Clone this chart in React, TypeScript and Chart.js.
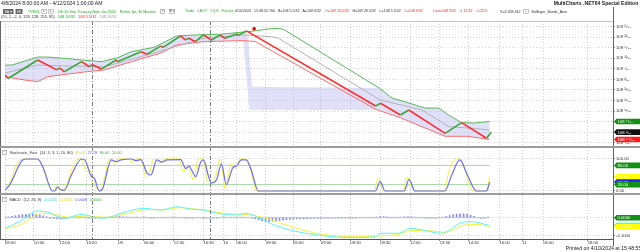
import React, { useEffect, useRef } from 'react';
import { Chart, registerables } from 'chart.js';

Chart.register(...registerables);

const FONT = "'Liberation Sans', Arial, Helvetica, sans-serif";

// ---------- time axis (x = bar index) ----------
const timeTickBars = [0, 8.3, 15.7, 23.4, 32.6, 40, 48.6, 57.1, 62.9, 66.6, 75.1, 82.9, 90.9, 99.4, 108, 116.6, 125.1, 133.4, 142.3, 148.9, 154.9, 167.7];
const timeTickLabels = ['09:00', '10:00', '12:00', '15:00', '09', '06:00', '12:30', '16:30', '10', '06:00', '09:00', '09:00', '09:00', '09:30', '09:30', '12:00', '13:30', '14:30', '16:00', '11', '06:00', '18:00'];
const sessionBreakBars = [24.9, 59.1];
const xMaxBar = 175;
const indicatorStartBar = 0;
const indicatorEndBar = 139.5;

// ---------- price panel (values in 32nds above 108) ----------
const priceTicks = [4, 9, 14, 19, 24, 29, 34, 39, 44, 49, 54, 59];
const priceBars = [0, 0.9, 9.4, 14.9, 15.7, 17.1, 22, 24.3, 25.1, 27.7, 32, 32.4, 39.1, 40.9, 44.8, 45.5, 50.5, 51.9, 52.9, 54.8, 57.1, 59.5, 61.9, 63.3, 66.7, 67.1, 69.5, 106.7, 108.1, 113.8, 116.2, 126.7, 131.4, 138.6, 140];
const priceVals = [36.1, 34.4, 43.2, 38.5, 39.5, 37.6, 42.4, 40.0, 41.1, 38.9, 43.2, 42.4, 47.1, 45.9, 49.8, 49.2, 54.6, 52.7, 53.5, 51.9, 55.1, 52.7, 55.1, 53.5, 55.5, 54.9, 57.0, 21.4, 22.7, 17.1, 19.5, 8.4, 13.5, 6.1, 9];
const markerBars = [71.7];
const markerVals = [58];
const upperBars = [0, 2, 9.4, 12.3, 19.1, 22, 27.7, 32.3, 36.3, 42.9, 49.4, 55.1, 62, 69.4, 72.3, 75.1, 78, 80, 107.7, 111.4, 116.3, 120.9, 124.9, 127.7, 131.4, 135.1, 139.5];
const upperVals = [40.8, 40.8, 44.6, 44.6, 43.7, 43.2, 42.4, 44.2, 47.1, 49.2, 54.6, 55.1, 55.4, 56.6, 57.1, 57.8, 58.2, 57.9, 29.9, 25.2, 22.8, 20.4, 20.4, 17.1, 13.5, 13.3, 14];
const midBars = [0, 9.4, 17.1, 28.6, 42.9, 57.1, 68.6, 76.3, 78.6, 108, 120, 127.7, 134.3, 139.5];
const midVals = [37, 40.8, 40.4, 40.0, 46.5, 53.5, 55.1, 54.3, 53.6, 24.2, 19.5, 11.6, 10.8, 10];
const lowerBars = [0, 5.7, 9.4, 12.3, 23.7, 28.6, 38, 44.9, 49.4, 57.1, 68.6, 72, 106.7, 113.8, 126.7, 133, 139.5];
const lowerVals = [35.3, 33.7, 32.9, 35.3, 37.7, 38.5, 43.2, 46.5, 50.3, 51.9, 52.4, 52.0, 19.8, 15.8, 7.0, 7.0, 5.5];
const areaTopBars = [0, 2, 9.4, 12.3, 19.1, 22, 27.7, 32.3, 36.3, 42.9, 49.4, 55.1, 62, 69.4, 70, 71.1, 107.7, 111.4, 116.3, 120.9, 124.9, 127.7, 131.4, 135.1, 139.5];
const areaTopVals = [40.8, 40.8, 44.6, 44.6, 43.7, 43.2, 42.4, 44.2, 47.1, 49.2, 54.6, 55.1, 55.4, 56.6, 52.4, 30.5, 29.9, 25.2, 22.8, 20.4, 20.4, 17.1, 13.5, 13.3, 14];
const areaBottomBars = [0, 5.7, 9.4, 12.3, 23.7, 28.6, 38, 44.9, 49.4, 57.1, 68.6, 70.3, 108, 113.8, 126.7, 133, 139.5];
const areaBottomVals = [35.3, 33.7, 32.9, 35.3, 37.7, 38.5, 43.2, 46.5, 50.3, 51.9, 52.4, 19.5, 19.5, 15.8, 7.0, 7.0, 5.5];

// ---------- stochastic ----------
const stochTicks = [0, 100];
const stochLevels = [80, 20];
const stochKBars = [0, 1.1, 4.3, 5.7, 9.4, 10.6, 12.9, 13.7, 14.9, 15.7, 16.6, 17.7, 20, 21.4, 22.3, 23.4, 24.6, 25.1, 26.3, 27.1, 28.6, 30, 31.4, 32.3, 35.7, 36.6, 37.7, 39.1, 40.6, 41.4, 42.9, 44.3, 45.7, 50, 51.4, 52.3, 54.3, 55.7, 57.1, 58, 59.1, 60.6, 62, 63.4, 65.1, 66.3, 67.7, 69.4, 71.1, 72.3, 106.3, 107.4, 108.9, 114.6, 115.7, 117.7, 126.3, 128, 130, 131.4, 133.7, 134.9, 138.6, 139.5];
const stochKVals = [0, 20, 97, 100, 100, 80, 10, 0, 18, 5, 0, 20, 90, 100, 95, 60, 65, 30, 10, 0, 40, 100, 88, 100, 100, 88, 100, 100, 42, 50, 100, 85, 100, 100, 60, 80, 35, 100, 100, 40, 20, 45, 100, 8, 85, 70, 100, 100, 50, 0, 0, 40, 0, 0, 45, 0, 0, 70, 100, 95, 20, 0, 0, 45.45];
const stochDBars = [0, 1.4, 5.1, 6.3, 9.4, 10.9, 13.7, 14.3, 15.1, 16.3, 17.1, 19.1, 22, 22.9, 24.9, 25.7, 27.1, 28, 30.6, 32, 33.4, 36.3, 37.7, 39.1, 40.9, 42, 43.7, 45.1, 46.6, 50.6, 52, 52.9, 54.9, 56.3, 57.1, 58.6, 59.4, 60.9, 62.3, 63.7, 65.7, 66.6, 68, 69.4, 70.9, 72.9, 106.6, 108, 109.4, 114.9, 116.3, 118, 126.6, 128.6, 130.9, 133.1, 135.7, 138.6, 139.5];
const stochDVals = [3, 20, 97, 100, 100, 75, 0, 0, 12, 3, 3, 50, 100, 98, 45, 40, 0, 5, 97, 92, 97, 100, 95, 98, 55, 50, 97, 90, 97, 98, 70, 78, 45, 90, 97, 45, 25, 35, 85, 20, 75, 78, 97, 97, 65, 0, 0, 29, 0, 0, 36, 0, 0, 50, 97, 50, 0, 0, 27.78];

// ---------- MACD ----------
const macdTicks = [-0.1, 0];
const macdZero = [0];
const macdBars = [0, 4.3, 9.4, 12.3, 17.1, 22, 26.6, 28.6, 33.4, 40, 44.9, 49.4, 53.4, 57.1, 60.9, 66.6, 69.4, 73.4, 76.3, 82, 91.4, 100, 106.6, 108, 113.4, 116.6, 120, 125.7, 131.4, 134.3, 139.5];
const macdVals = [-0.058, -0.02, 0.037, 0.03, -0.003, 0.018, 0, -0.002, 0.024, 0.051, 0.042, 0.06, 0.047, 0.042, 0.024, 0.015, 0.024, -0.003, -0.031, -0.067, -0.098, -0.109, -0.104, -0.085, -0.085, -0.058, -0.067, -0.085, -0.027, -0.022, -0.0425];
const signalBars = [0, 4.3, 10.6, 14.3, 18.6, 23.4, 28.6, 34.3, 40.9, 45.7, 50, 54.3, 58.6, 62.9, 68.6, 74.3, 78.6, 84.3, 91.4, 100, 107.7, 113.4, 117.1, 121.4, 126.6, 132.3, 135.7, 139.5];
const signalVals = [-0.06, -0.04, 0.025, 0.018, 0.002, 0.01, 0.002, 0.018, 0.045, 0.042, 0.055, 0.048, 0.04, 0.024, 0.018, 0.002, -0.025, -0.06, -0.091, -0.104, -0.1, -0.09, -0.07, -0.07, -0.08, -0.04, -0.037, -0.0474];
// one histogram value per bar, bar index = position in list
const histVals = [
  0.002, 0.005, 0.008, 0.011, 0.014, 0.017, 0.019, 0.02, 0.02, 0.018, 0.015, 0.01, 0.005,
  -0.002, -0.005, -0.007, -0.007, -0.005, -0.001,
  0.003, 0.005, 0.005, 0.004, 0.001,
  -0.003, -0.004, -0.003, -0.002,
  0.001, 0.003, 0.005, 0.006, 0.006, 0.006, 0.005, 0.004, 0.003, 0.002, 0.001,
  0.001, 0.001, 0, -0.001, -0.001, 0, 0.001, 0.001, 0.002, 0.002, 0.002, 0.001, 0, -0.001, -0.001, -0.001, 0, 0, -0.001, -0.002, -0.002, -0.002, -0.001, 0, 0.001, 0.002, 0.002, 0.002, 0.003, 0.003, 0.002,
  0, -0.003, -0.006, -0.012, -0.016, -0.019, -0.02, -0.02, -0.018, -0.015, -0.013, -0.011, -0.009, -0.008, -0.007, -0.007, -0.006, -0.006, -0.005, -0.005, -0.004, -0.004,
  -0.003, -0.003, -0.002, -0.002, -0.002, -0.002, -0.001, -0.001, -0.001, -0.001, 0, 0, 0.001, 0.001,
  0.002, 0.004, 0.006, 0.006, 0.005, 0.003, 0.002, 0.002, 0.003, 0.005, 0.006, 0.005, 0.003, 0.001, 0, -0.001, -0.001, -0.001, -0.001, 0,
  0.003, 0.007, 0.012, 0.016, 0.019, 0.021, 0.021, 0.019, 0.014, 0.007, 0, -0.004, -0.004, 0.0008,
];

// ---------- colours ----------
const UP = '#3aa83a';
const DOWN = '#ff2e2e';
const UPPER = '#58b858';
const LOWER = '#ff6a6a';
const MID = '#b4b4b4';
const AREA = 'rgba(170,170,238,0.36)';
const YEL = '#f2f23a';
const BLUE = '#6c6cff';
const LEVEL = '#a6d6a6';
const CYAN = '#5ef2f2';
const HIST = 'rgba(96,96,236,0.75)';

const last = (a: number[]) => a[a.length - 1];
const SUP: Record<string, string> = { '0': '⁰', '1': '¹', '2': '²', '3': '³', '4': '⁴', '5': '⁵', '6': '⁶', '7': '⁷', '8': '⁸', '9': '⁹', '.': '·' };
function split32(p: number) {
  const whole = 108 + Math.floor(p / 32);
  const frac = +(p - Math.floor(p / 32) * 32).toFixed(1);
  return [whole, frac];
}
function fmtFrac(p: number) {
  const [w, f] = split32(p);
  return `${w} ${String(f).split('').map((c) => SUP[c] || c).join('')}⁄₃₂`;
}
function fmtPlain(p: number) {
  const [w, f] = split32(p);
  return `${w} ${f}/32`;
}

const overlayPlugin = {
  id: 'mcOverlay',
  afterDraw(chart: any) {
    const { ctx, chartArea: a, scales } = chart;
    const x = scales.x, py = scales.price, sy = scales.stoch, my = scales.macd;
    const line = (x1: number, y1: number, x2: number, y2: number) => {
      ctx.beginPath(); ctx.moveTo(x1, y1); ctx.lineTo(x2, y2); ctx.stroke();
    };
    ctx.save();
    ctx.lineWidth = 1;
    ctx.strokeStyle = '#7a7a7a';
    ctx.setLineDash([4, 2, 1, 2]);
    sessionBreakBars.forEach((b) => {
      const px = Math.round(x.getPixelForValue(b)) + 0.5;
      line(px, a.top, px, a.bottom);
    });
    ctx.setLineDash([]);
    ctx.strokeStyle = '#c4c4c4';
    line(0, a.top + 0.5, a.right, a.top + 0.5);
    ctx.strokeStyle = '#666';
    line(0.5, a.top, 0.5, a.bottom);
    line(Math.round(a.right) + 0.5, 7, Math.round(a.right) + 0.5, 246);
    ctx.strokeStyle = '#555';
    line(0, Math.round(a.bottom) + 0.5, a.right, Math.round(a.bottom) + 0.5);
    ctx.fillStyle = '#9c9c9c';
    [sy.top, my.top].forEach((t: number) => ctx.fillRect(0, Math.round(t) - 1, 640, 2));
    const tag = (y: number, bg: string, fg: string, text: string) => {
      const x0 = Math.round(a.right) + 1;
      ctx.fillStyle = bg;
      ctx.beginPath();
      ctx.moveTo(x0, y);
      ctx.lineTo(x0 + 2.5, y - 2.8);
      ctx.lineTo(640, y - 2.8);
      ctx.lineTo(640, y + 2.8);
      ctx.lineTo(x0 + 2.5, y + 2.8);
      ctx.closePath();
      ctx.fill();
      ctx.fillStyle = fg;
      ctx.font = `4.2px ${FONT}`;
      ctx.textBaseline = 'middle';
      ctx.textAlign = 'left';
      ctx.fillText(text, x0 + 3.5, y + 0.3);
    };
    tag(py.getPixelForValue(last(upperVals)), '#139013', '#e8ffe8', fmtFrac(last(upperVals)));
    tag(py.getPixelForValue(last(priceVals)), '#111111', '#ffffff', fmtFrac(last(priceVals)));
    tag(py.getPixelForValue(last(lowerVals)), '#ff1c1c', '#ffffff', fmtFrac(last(lowerVals)));
    tag(sy.getPixelForValue(stochLevels[0]), '#139013', '#ffffff', stochLevels[0].toFixed(2));
    tag(sy.getPixelForValue(last(stochKVals)), '#ffff00', '#ffffff', last(stochKVals).toFixed(2));
    tag(sy.getPixelForValue(last(stochDVals)), '#2020ff', '#ffffff', last(stochDVals).toFixed(2));
    tag(sy.getPixelForValue(stochLevels[1]), '#139013', '#ffffff', stochLevels[1].toFixed(2));
    tag(my.getPixelForValue(macdZero[0]), '#139013', '#ffffff', macdZero[0].toFixed(4));
    tag(my.getPixelForValue(last(macdVals)), '#00e8e8', '#ffffff', last(macdVals).toFixed(4));
    tag(my.getPixelForValue(last(signalVals)), '#ffff00', '#ffffff', last(signalVals).toFixed(4));
    ctx.restore();
  },
};

const gridCommon = { color: '#d2d2d2', lineWidth: 1, drawTicks: true, tickLength: 2, tickColor: '#888', offset: false };
const tickFont = { size: 4.2, family: FONT, lineHeight: 1 };

type Item = [string, string] | [string, string, 'box' | 'dark'];

// text rows are drawn at 2x size and scaled down, so tiny fonts are not clamped
function Row(props: { x: number; y: number; size: number; gap: number; items: Item[]; bold?: boolean; right?: boolean }) {
  const { x, y, size, gap, items, bold, right } = props;
  const pos: any = right ? { right: 640 - x, transformOrigin: '100% 0' } : { left: x, transformOrigin: '0 0' };
  return (
    <div style={{
      position: 'absolute', top: y - size / 2, display: 'flex', alignItems: 'center', gap: gap * 2,
      fontSize: size * 2, lineHeight: `${size * 2}px`, whiteSpace: 'nowrap', transform: 'scale(0.5)',
      fontWeight: bold ? 'bold' : 'normal', ...pos,
    }}>
      {items.map((it, i) => {
        const [t, c, kind] = it as any;
        if (kind === 'dark') {
          return <span key={i} style={{ background: '#666', color: '#fff', padding: '0 3px', height: 10, lineHeight: '10px', fontSize: 7 }}>{t}</span>;
        }
        if (kind === 'box') {
          return <span key={i} style={{ border: '1px solid #888', color: '#444', padding: '0 1px', minWidth: 6, height: 7, lineHeight: '7px', fontSize: 6, textAlign: 'center' }}>{t}</span>;
        }
        return <span key={i} style={{ color: c }}>{t}</span>;
      })}
    </div>
  );
}

export default function App() {
  const ref = useRef<HTMLCanvasElement>(null);

  useEffect(() => {
    const canvas = ref.current!;
    const xy = (bars: number[], vals: number[]) => bars.map((x, i) => ({ x, y: vals[i] }));
    const flat = (v: number) => [{ x: indicatorStartBar, y: v }, { x: indicatorEndBar, y: v }];
    const lineDs = (extra: any) => ({ type: 'line', pointRadius: 0, borderWidth: 1, tension: 0, fill: false, ...extra });

    const chart = new Chart(canvas, {
      type: 'line',
      data: {
        datasets: [
          lineDs({
            label: 'TYM24', data: xy(priceBars, priceVals), yAxisID: 'price', borderWidth: 1.6, borderColor: DOWN, order: 0,
            segment: { borderColor: (c: any) => (c.p1.parsed.y >= c.p0.parsed.y ? UP : DOWN) },
          }),
          lineDs({ label: 'marker', data: xy(markerBars, markerVals), yAxisID: 'price', showLine: false, pointRadius: 1.6, pointStyle: 'rect', pointBackgroundColor: '#ff0000', pointBorderColor: '#ff0000', order: 0 }),
          lineDs({ label: 'Upper', data: xy(upperBars, upperVals), yAxisID: 'price', borderColor: UPPER, order: 1 }),
          lineDs({ label: 'Mid', data: xy(midBars, midVals), yAxisID: 'price', borderColor: MID, order: 1 }),
          lineDs({ label: 'Lower', data: xy(lowerBars, lowerVals), yAxisID: 'price', borderColor: LOWER, order: 1 }),
          lineDs({ label: 'AreaTop', data: xy(areaTopBars, areaTopVals), yAxisID: 'price', borderWidth: 0, borderColor: 'rgba(0,0,0,0)', backgroundColor: AREA, fill: '+1', order: 6 }),
          lineDs({ label: 'AreaBottom', data: xy(areaBottomBars, areaBottomVals), yAxisID: 'price', borderWidth: 0, borderColor: 'rgba(0,0,0,0)', order: 6 }),
          lineDs({ label: '%K', data: xy(stochKBars, stochKVals), yAxisID: 'stoch', borderColor: YEL, cubicInterpolationMode: 'monotone', order: 2 }),
          lineDs({ label: '%D', data: xy(stochDBars, stochDVals), yAxisID: 'stoch', borderColor: BLUE, borderWidth: 1.2, cubicInterpolationMode: 'monotone', order: 1 }),
          lineDs({ label: 'OB', data: flat(stochLevels[0]), yAxisID: 'stoch', borderColor: LEVEL, order: 3 }),
          lineDs({ label: 'OS', data: flat(stochLevels[1]), yAxisID: 'stoch', borderColor: LEVEL, order: 3 }),
          lineDs({ label: 'MACD', data: xy(macdBars, macdVals), yAxisID: 'macd', borderColor: CYAN, cubicInterpolationMode: 'monotone', order: 1 }),
          lineDs({ label: 'Signal', data: xy(signalBars, signalVals), yAxisID: 'macd', borderColor: YEL, cubicInterpolationMode: 'monotone', order: 2 }),
          {
            type: 'bar', label: 'Hist', data: histVals.map((v, i) => ({ x: i, y: v })), yAxisID: 'macd',
            backgroundColor: HIST, borderWidth: 0, barThickness: 1, order: 4,
          },
          lineDs({ label: 'Zero', data: flat(macdZero[0]), yAxisID: 'macd', borderColor: LEVEL, order: 3 }),
        ] as any,
      },
      options: {
        animation: false,
        responsive: false,
        maintainAspectRatio: false,
        devicePixelRatio: 1,
        layout: { padding: { left: 1, top: 21, right: 0, bottom: 0 } },
        plugins: { legend: { display: false }, tooltip: { enabled: false } },
        elements: { point: { radius: 0 } },
        scales: {
          x: {
            type: 'linear', position: 'bottom', min: 0, max: xMaxBar, offset: false,
            afterBuildTicks: (s: any) => { s.ticks = timeTickBars.map((v) => ({ value: v })); },
            afterFit: (s: any) => { s.height = 13; },
            ticks: { callback: (_v: any, i: number) => timeTickLabels[i], align: 'start', autoSkip: false, maxRotation: 0, minRotation: 0, font: tickFont, color: '#333', padding: 0 },
            grid: gridCommon,
            border: { display: false, dash: [1, 2] },
          },
          price: {
            type: 'linear', position: 'right', stack: 'panes', stackWeight: 126, min: 1.93, max: 61.7,
            afterBuildTicks: (s: any) => { s.ticks = priceTicks.map((v) => ({ value: v })); },
            afterFit: (s: any) => { s.width = 27; },
            ticks: { callback: (v: any) => fmtFrac(Number(v)), autoSkip: false, font: tickFont, color: '#333', padding: 1 },
            grid: gridCommon,
            border: { display: false, dash: [1, 2] },
          },
          stoch: {
            type: 'linear', position: 'right', stack: 'panes', stackWeight: 47, min: -9.4, max: 137.5,
            afterBuildTicks: (s: any) => { s.ticks = stochTicks.map((v) => ({ value: v })); },
            afterFit: (s: any) => { s.width = 27; },
            ticks: { callback: (v: any) => Number(v).toFixed(2), autoSkip: false, font: tickFont, color: '#333', padding: 1 },
            grid: gridCommon,
            border: { display: false, dash: [1, 2] },
          },
          macd: {
            type: 'linear', position: 'right', stack: 'panes', stackWeight: 45, min: -0.1164, max: 0.1295,
            afterBuildTicks: (s: any) => { s.ticks = macdTicks.map((v) => ({ value: v })); },
            afterFit: (s: any) => { s.width = 27; },
            ticks: { callback: (v: any) => Number(v).toFixed(4), autoSkip: false, font: tickFont, color: '#333', padding: 1 },
            grid: gridCommon,
            border: { display: false, dash: [1, 2] },
          },
        },
      } as any,
      plugins: [overlayPlugin],
    });
    return () => chart.destroy();
  }, []);

  const DARK = '#333';
  const GREEN = '#22a022';
  const RED = '#ff2020';
  const S2 = 3.6;

  return (
    <div style={{ position: 'absolute', left: 0, top: 0, width: 640, height: 252, background: '#fff', overflow: 'hidden', fontFamily: FONT }}>
      <canvas ref={ref} width={640} height={252} style={{ position: 'absolute', left: 0, top: 0, display: 'block' }} />
      <Row x={1} y={4} size={5.1} gap={0} items={[['4/8/2024 8:00:00 AM - 4/12/2024 1:00:00 AM', '#222']]} />
      <Row x={638.5} y={3.6} size={5.1} gap={0} bold right items={[['MultiCharts .NET64 Special Edition', '#222']]} />

      <Row x={3} y={10.7} size={S2} gap={2} items={[['SA ▾', '', 'dark'], ['VII', '', 'dark']]} />
      <Row x={28} y={10.7} size={S2} gap={2} items={[['TYM24', GREEN], ['▾', '', 'box'], ['▸', '', 'box']]} />
      <Row x={58} y={10.7} size={S2} gap={4} items={[['US 10-Year Treasury Note Jun 2024', GREEN], ['Renko 1pt, 30 Minutes', GREEN], ['▾', '', 'box'], ['B ▾', '', 'box']]} />
      <Row x={185} y={10.7} size={S2} gap={3} items={[['Trade', GREEN], ['CBOT', GREEN], ['CQG', GREEN], ['Futures', GREEN]]} />
      <Row x={235} y={10.7} size={S2} gap={3} items={[['4/10/2024', DARK], ['15:48:52.760', DARK], ['B=108 5.5/32', DARK], ['A=108 6/32', DARK]]} />
      <Row x={325} y={10.7} size={S2} gap={3.5} items={[['O=109 20.5/32', RED], ['H=109 26.5/32', DARK], ['L=108 5.5/32', DARK], [`C=${fmtPlain(last(priceVals))}`, RED]]} />
      <Row x={433} y={10.7} size={S2} gap={3.5} items={[[`Last=${fmtPlain(last(priceVals))}`, RED], ['-1 12/32', RED], ['-1.25%', RED]]} />
      <Row x={500} y={10.7} size={S2} gap={3} items={[['V=3,268,342', DARK], ['+', '', 'box'], ['Bollinger_Bands_Area', DARK]]} />

      <Row x={1} y={16.6} size={3.9} gap={3} items={[['(20, 2, -2, 0, 128, 128, 255, 85)', DARK], [fmtPlain(last(upperVals)), GREEN], [fmtPlain(last(lowerVals)), RED], [fmtPlain(last(midVals)), '#999']]} />

      <Row x={2} y={152.3} size={3.9} gap={2.5} items={[['−', '', 'box'], ['Stochastic_Fast', DARK], ['(14, 3, 3, 1, 20, 80)', DARK], [last(stochKVals).toFixed(2), '#e0e000'], [last(stochDVals).toFixed(2), '#5555ff'], [stochLevels[0].toFixed(2), '#44aa44'], [stochLevels[1].toFixed(2), '#44aa44']]} />
      <Row x={2} y={199.3} size={3.9} gap={2.5} items={[['−', '', 'box'], ['MACD', DARK], ['(12, 26, 9)', DARK], [last(macdVals).toFixed(4), '#30d8d8'], [last(signalVals).toFixed(4), '#e0e000'], [last(histVals).toFixed(4), '#5555ff'], [macdZero[0].toFixed(4), '#44aa44']]} />

      <Row x={641} y={249} size={5.2} gap={0} right items={[['Printed on 4/10/2024 at 15:48:55', '#222']]} />
    </div>
  );
}
